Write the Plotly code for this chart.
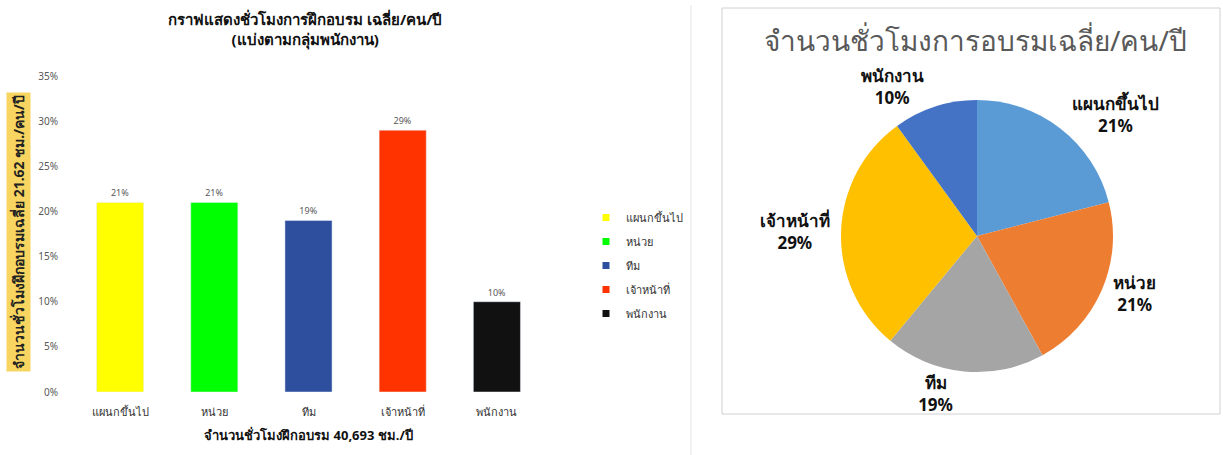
import plotly.graph_objects as go

W, H = 1223, 455

categories = ["แผนกขึ้นไป", "หน่วย", "ทีม", "เจ้าหน้าที่", "พนักงาน"]
bar_values = [0.21, 0.21, 0.19, 0.29, 0.10]
bar_colors = ["#FFFF00", "#00FF00", "#2E4F9E", "#FF3300", "#111111"]
pie_values = [21, 21, 19, 29, 10]
pie_colors = ["#5B9BD5", "#ED7D31", "#A5A5A5", "#FFC000", "#4472C4"]
y_ticks = [0, 0.05, 0.10, 0.15, 0.20, 0.25, 0.30, 0.35]

bar_title = "<b>กราฟแสดงชั่วโมงการฝึกอบรม เฉลี่ย/คน/ปี<br>(แบ่งตามกลุ่มพนักงาน)</b>"
bar_xtitle = "<b>จำนวนชั่วโมงฝึกอบรม 40,693 ชม./ปี</b>"
bar_ytitle = "<b>จำนวนชั่วโมงฝึกอบรมเฉลี่ย 21.62 ชม./คน/ปี</b>"
pie_title = "จำนวนชั่วโมงการอบรมเฉลี่ย/คน/ปี"

FONT = "Noto Sans, Tahoma, DejaVu Sans, sans-serif"

def px(x):
    return x / W

def py(y):
    return 1 - y / H

fig = go.Figure()

for cat, val, col in zip(categories, bar_values, bar_colors):
    fig.add_trace(go.Bar(
        x=[cat], y=[val], name=cat, marker_color=col, width=0.5,
        text=[f"{round(val*100)}%"], textposition="outside",
        textfont=dict(size=9, color="#595959"), cliponaxis=False,
        showlegend=False, xaxis="x", yaxis="y",
    ))
    # small square legend entries
    fig.add_trace(go.Scatter(
        x=[None], y=[None], mode="markers", name=cat, legendgroup=cat,
        marker=dict(symbol="square", size=7, color=col), showlegend=True,
        xaxis="x", yaxis="y",
    ))

fig.add_trace(go.Pie(
    labels=categories, values=pie_values, sort=False, direction="clockwise",
    rotation=0, marker=dict(colors=pie_colors, line=dict(width=0)),
    texttemplate="<b>%{label}<br>%{value}%</b>", textposition="outside",
    textfont=dict(size=17, color="#111111"), showlegend=False,
    domain=dict(x=[px(977 - 137), px(977 + 137)], y=[py(236 + 136), py(236 - 136)]),
    hoverinfo="label+percent",
))

fig.update_layout(
    width=W, height=H, margin=dict(l=0, r=0, t=0, b=0, autoexpand=False),
    paper_bgcolor="white", plot_bgcolor="white",
    font=dict(family=FONT, color="#333333"),
    barmode="overlay",
    showlegend=True,
    legend=dict(x=px(586), y=py(203), xanchor="left", yanchor="top",
                font=dict(size=11, color="#333333"), tracegroupgap=5,
                itemwidth=30, bgcolor="rgba(0,0,0,0)"),
    xaxis=dict(domain=[px(73), px(544)], categoryorder="array", categoryarray=categories,
               showline=False, ticks="", tickfont=dict(size=11, color="#333333"),
               ticklabelstandoff=12, showgrid=False, zeroline=False,
               title=dict(text=bar_xtitle, font=dict(size=13, color="#111111"), standoff=12)),
    yaxis=dict(domain=[py(392), py(76)], range=[0, 0.35], tickvals=y_ticks,
               tickformat=".0%", showgrid=False, zeroline=False,
               tickfont=dict(size=10, color="#595959"), ticklabelstandoff=14),
    annotations=[
        dict(text=bar_title, x=px(305), y=py(7), xref="paper", yref="paper",
             xanchor="center", yanchor="top", showarrow=False,
             font=dict(size=15, color="#111111")),
        dict(text=bar_ytitle, x=px(19), y=py(232), xref="paper", yref="paper",
             xanchor="center", yanchor="middle", showarrow=False, textangle=-90,
             bgcolor="#F7D560", borderpad=2, font=dict(size=14, color="#222222")),
        dict(text=pie_title, x=px(975), y=py(40), xref="paper", yref="paper",
             xanchor="center", yanchor="middle", showarrow=False,
             font=dict(size=28, color="#595959")),
    ],
    shapes=[
        dict(type="line", xref="paper", yref="paper", x0=px(691), x1=px(691),
             y0=0, y1=py(5), line=dict(color="#E3E3E3", width=1)),
        dict(type="rect", xref="paper", yref="paper", x0=px(722), x1=px(1220),
             y0=py(414), y1=py(8), line=dict(color="#D0D0D0", width=1)),
    ],
)

fig.write_html("out.html", config={"displayModeBar": False},
               post_script="document.body.style.margin='0px';")
